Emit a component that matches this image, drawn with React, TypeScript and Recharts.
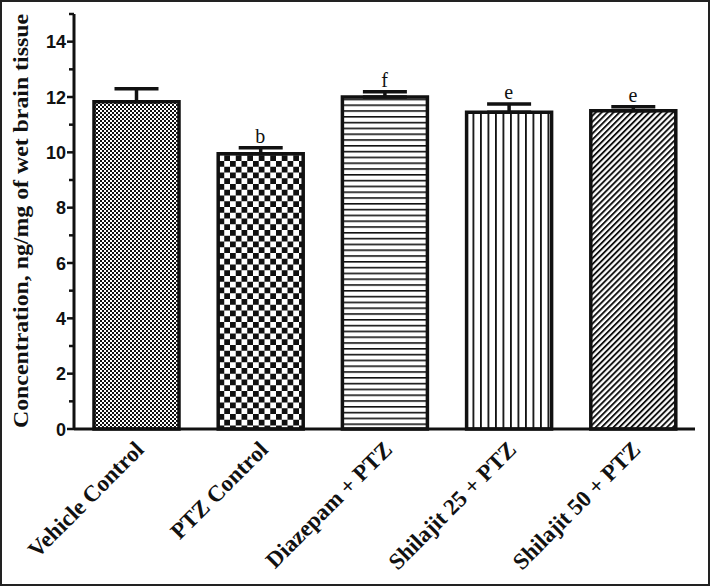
import React from 'react';
import { ComposedChart, Bar, Line, XAxis, YAxis, ErrorBar, LabelList, Cell } from 'recharts';

const categories = ['Vehicle Control', 'PTZ Control', 'Diazepam + PTZ', 'Shilajit 25 + PTZ', 'Shilajit 50 + PTZ'];
const means = [11.83, 9.95, 12.0, 11.45, 11.5];
const sems = [0.47, 0.22, 0.19, 0.3, 0.15];
const letters = ['', 'b', 'f', 'e', 'e'];
const patternIds = ['pFineCheck', 'pCoarseCheck', 'pHoriz', 'pVert', 'pDiag'];
const yTicks = [0, 1, 2, 3, 4, 5, 6, 7, 8, 9, 10, 11, 12, 13, 14, 15];
const yLabelled = [0, 2, 4, 6, 8, 10, 12, 14];

const data = categories.map((c, i) => ({
  name: c,
  mean: means[i],
  err: [0, sems[i]],
  top: means[i] + sems[i],
  letter: letters[i],
}));

const INK = '#111';

const YTick = (props: any) => {
  const { x, y, payload } = props;
  const v = payload.value;
  const major = yLabelled.includes(v);
  const len = major ? 7 : 5;
  return (
    <g>
      <line x1={x - len} x2={x} y1={y} y2={y} stroke={INK} strokeWidth={2.5} />
      {major && (
        <text
          x={x - 8}
          y={y}
          dy={6.5}
          textAnchor="end"
          fontFamily="Liberation Sans, Arial, sans-serif"
          fontWeight="bold"
          fontSize={18}
          fill={INK}
        >
          {v}
        </text>
      )}
    </g>
  );
};

const XTick = (props: any) => {
  const { x, y, payload } = props;
  const ax = x + 9;
  const ay = y + 22;
  return (
    <text
      x={ax}
      y={ay}
      transform={`rotate(-45 ${ax} ${ay})`}
      textAnchor="end"
      fontFamily="Liberation Serif, Times New Roman, serif"
      fontWeight="bold"
      fontSize={23}
      fill={INK}
    >
      {payload.value}
    </text>
  );
};

const YLabel = () => (
  <text
    x={28}
    y={221}
    transform="rotate(-90 28 221)"
    textAnchor="middle"
    fontFamily="Liberation Serif, Times New Roman, serif"
    fontWeight="bold"
    fontSize={22}
    fill={INK}
    textLength={414}
    lengthAdjust="spacingAndGlyphs"
  >
    Concentration, ng/mg of wet brain tissue
  </text>
);

export default function App() {
  return (
    <div style={{ position: 'absolute', left: 0, top: 0, width: 710, height: 586, background: '#fff' }}>
      <ComposedChart
        width={710}
        height={586}
        data={data}
        margin={{ top: 14, right: 15, bottom: 0, left: 0 }}
      >
        <defs>
          <pattern id="pFineCheck" patternUnits="userSpaceOnUse" width={4} height={4}>
            <rect width={4} height={4} fill="#fff" />
            <rect x={0} y={0} width={2} height={2} fill={INK} />
            <rect x={2} y={2} width={2} height={2} fill={INK} />
          </pattern>
          <pattern id="pCoarseCheck" patternUnits="userSpaceOnUse" width={11.5} height={11.5}>
            <rect width={11.5} height={11.5} fill="#fff" />
            <rect x={0} y={0} width={5.75} height={5.75} fill={INK} />
            <rect x={5.75} y={5.75} width={5.75} height={5.75} fill={INK} />
          </pattern>
          <pattern id="pHoriz" patternUnits="userSpaceOnUse" width={10} height={5.8}>
            <rect width={10} height={5.8} fill="#fff" />
            <rect x={0} y={0} width={10} height={1.6} fill={INK} />
          </pattern>
          <pattern id="pVert" patternUnits="userSpaceOnUse" width={7.5} height={10}>
            <rect width={7.5} height={10} fill="#fff" />
            <rect x={0} y={0} width={1.8} height={10} fill={INK} />
          </pattern>
          <pattern id="pDiag" patternUnits="userSpaceOnUse" width={4.2} height={10} patternTransform="rotate(45)">
            <rect width={4.2} height={10} fill="#fff" />
            <rect x={0} y={0} width={1.9} height={10} fill={INK} />
          </pattern>
        </defs>
        <XAxis
          dataKey="name"
          height={157}
          interval={0}
          axisLine={{ stroke: INK, strokeWidth: 3 }}
          tickLine={false}
          tickSize={0}
          tickMargin={0}
          tick={<XTick />}
        />
        <YAxis
          width={74}
          domain={[0, 15]}
          ticks={yTicks}
          interval={0}
          axisLine={{ stroke: INK, strokeWidth: 3 }}
          tickLine={false}
          tickSize={0}
          tickMargin={0}
          tick={<YTick />}
        />
        <Bar dataKey="mean" barSize={85} stroke={INK} strokeWidth={3.5} isAnimationActive={false}>
          {data.map((d, i) => (
            <Cell key={d.name} fill={`url(#${patternIds[i]})`} />
          ))}
          <ErrorBar dataKey="err" width={22} strokeWidth={3.5} stroke={INK} direction="y" />
        </Bar>
        <Line dataKey="top" stroke="none" dot={false} activeDot={false} isAnimationActive={false}>
          <LabelList
            dataKey="letter"
            position="top"
            offset={5}
            style={{ fontFamily: 'Liberation Serif, Times New Roman, serif', fontSize: 20, fill: INK }}
          />
        </Line>
        <YLabel />
      </ComposedChart>
      <div
        style={{
          position: 'absolute',
          left: 0,
          top: 0,
          width: 710,
          height: 586,
          border: '2px solid #222',
          boxSizing: 'border-box',
          pointerEvents: 'none',
        }}
      />
    </div>
  );
}
